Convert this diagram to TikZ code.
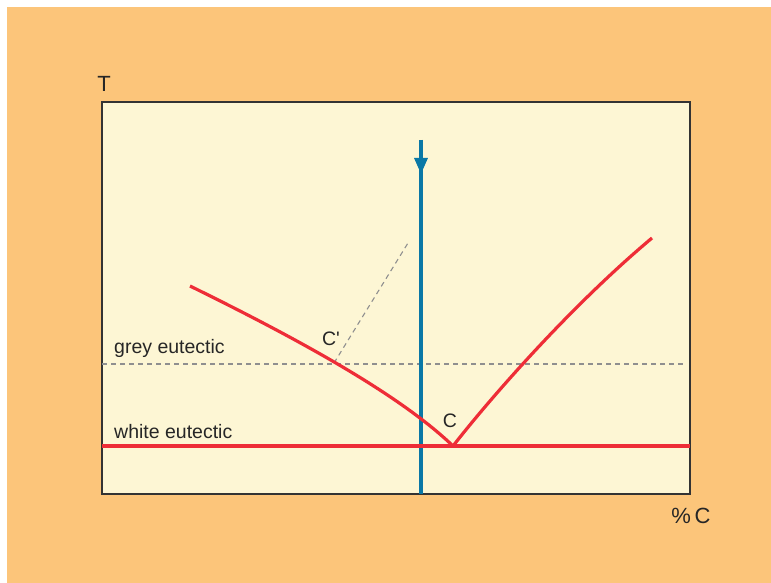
\documentclass[tikz,border=0pt]{standalone}
\usepackage{fontspec}
\setmainfont{Liberation Sans}
\newfontfamily\plainfont{Liberation Sans}
\usetikzlibrary{arrows.meta}
\definecolor{bgorange}{HTML}{FCC57A}
\definecolor{plotfill}{HTML}{FDF6D4}
\definecolor{curvered}{HTML}{EE2D37}
\definecolor{arrowblue}{HTML}{0A78A6}
\definecolor{dashgrey}{HTML}{8F8F8F}
\definecolor{framegrey}{HTML}{333333}
\tikzset{
  redline/.style={draw=curvered, line width=3.2pt, line join=round},
  blueline/.style={draw=arrowblue, line width=3.2pt},
  greydash/.style={draw=dashgrey, line width=1.1pt, dash pattern=on 5pt off 4pt},
  lbl/.style={font=\fontsize{19.5}{22}\selectfont, text=black!85, inner sep=0pt},
  axlbl/.style={font=\fontsize{22}{25}\selectfont, text=black!85, inner sep=0pt},
}
\begin{document}
\begin{tikzpicture}[x=1pt,y=-1pt]
\useasboundingbox (0,0) rectangle (771,583);
\fill[bgorange] (7,7) rectangle (771,583);
\draw[framegrey, line width=2pt, fill=plotfill] (102,102) rectangle (690,494);
% coordinates
\coordinate (gL) at (102,364);
\coordinate (gR) at (686,364);
\coordinate (wL) at (102,446);
\coordinate (wR) at (690,446);
\coordinate (Cp) at (334,363);
\coordinate (Cptop) at (408,243);
\coordinate (Cpt) at (453,446);
\coordinate (Lstart) at (190,286);
\coordinate (Rend) at (652,238);
\coordinate (bTop) at (421,140);
\coordinate (bTip) at (421,174);
\coordinate (bBot) at (421,494);
% grey dashed
\draw[greydash] (gL) -- (gR);
\draw[greydash] (Cp) -- (Cptop);
% blue line
\draw[blueline] (bTop) -- (bBot);
\draw[blueline, -{Triangle[length=16pt,width=13pt]}] (bTop) -- (bTip);
% red lines
\draw[redline] (wL) -- (wR);
\draw[redline] (Lstart) .. controls (300,340) and (400,395) .. (Cpt);
\draw[redline] (Cpt) .. controls (492,396) and (572,305) .. (Rend);
% labels
\node[axlbl] (T) at (104,84) {T};
\node[axlbl] (pc) at (691,516) {\%\,C};
\node[lbl, anchor=west] (grey) at (114,348) {grey eutectic};
\node[lbl, anchor=west] (white) at (114,432) {white eutectic};
\node[lbl] (Cprime) at (331,339) {\plainfont C'};
\node[lbl] (Clab) at (450,421) {C};
\end{tikzpicture}
\end{document}
